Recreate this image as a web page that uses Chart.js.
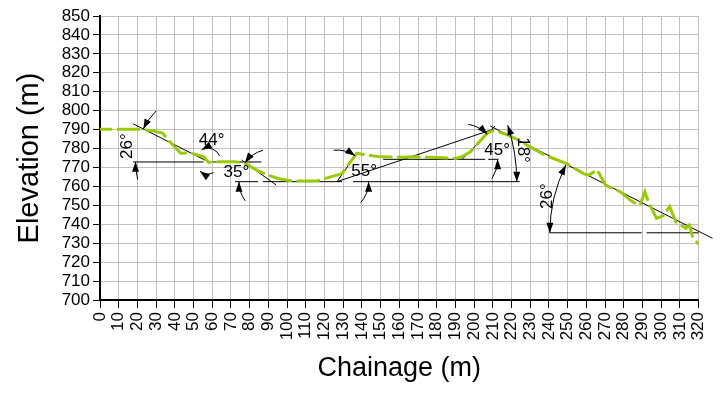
<!DOCTYPE html>
<html><head><meta charset="utf-8">
<script src="https://cdn.jsdelivr.net/npm/chart.js@4.4.1/dist/chart.umd.min.js"></script>
<style>html,body{margin:0;padding:0;background:#fff;}canvas{display:block;}</style>
</head><body>
<canvas id="c" width="723" height="407"></canvas>
<script>
// ---- data ----
const chainage = [0, 21, 28, 33.4, 36.1, 43.1, 47.5, 55.4, 58.1, 61.6, 72.2, 77.4, 84, 89.8, 95, 100, 104, 116.2, 128.5, 129.4, 137.3, 142, 150, 160, 170, 180, 190.1, 193.6, 198, 206.8, 209.5, 213, 218.2, 221.8, 237.6, 249.1, 258.7, 261.4, 265.8, 270.2, 278.1, 283.4, 286.1, 288.7, 291.3, 293.1, 297.5, 301, 304.5, 307.9, 313.3, 315, 316.8, 320];
const elevation = [790.2, 790.2, 789.4, 788.2, 784.9, 777.5, 777.8, 775.7, 772.7, 773.0, 773.0, 772.2, 768.5, 766.0, 764.2, 763.2, 762.8, 763.0, 766.5, 766.9, 777.5, 776.6, 775.6, 775.4, 775.6, 775.2, 774.8, 775.7, 778.3, 788.0, 789.3, 788.9, 787.1, 785.4, 776.6, 772.2, 766.6, 766.0, 768.7, 760.7, 757.2, 752.8, 751.1, 750.2, 757.2, 751.9, 743.1, 744.5, 749.3, 741.2, 737.9, 739.6, 733.4, 729.5];
const xTickValues = [0,10,20,30,40,50,60,70,80,90,100,110,120,130,140,150,160,170,180,190,200,210,220,230,240,250,260,270,280,290,300,310,320];
const yTickValues = [700,710,720,730,740,750,760,770,780,790,800,810,820,830,840,850];
// construction lines: [chainage1, elevation1, chainage2, elevation2]
const guideLines = [
  [17.6, 793.1, 58.1, 772.9],
  [17.6, 772.9, 55.4, 772.9],
  [60.2, 772.9, 86.3, 772.9],
  [75.7, 773.9, 94.2, 760.7],
  [72.2, 762.5, 84.5, 762.5],
  [87.1, 762.5, 129.4, 762.5],
  [135.2, 762.5, 224.4, 762.5],
  [126.7, 762.5, 137.3, 777.5],
  [126.7, 762.5, 210.3, 790.2],
  [151.4, 774.3, 205.9, 774.3],
  [207.5, 774.3, 213.0, 774.3],
  [193.6, 774.3, 211.2, 791.9],
  [208.6, 791.9, 327.4, 732.6],
  [240.3, 735.5, 289.6, 735.5],
  [292.2, 735.5, 320.0, 735.5]
];
// angle arcs: vertex chainage, vertex elevation, radius (m), from angle, to angle, arrow at start, arrow at end
const angleArcs = [
  [58.1, 773.0, 39.1, 136, 153.4, false, true],
  [58.1, 773.0, 39.1, 194, 180, false, true],
  [57.6, 773.4, 6.9, 23, 118, false, true],
  [57.6, 773.4, 6.9, -63, -127, false, true],
  [91.7, 762.5, 17.4, 105, 144.5, false, true],
  [91.7, 762.5, 17.4, 216, 180, false, true],
  [126.7, 762.5, 16.9, 96, 55, false, true],
  [126.7, 762.5, 16.9, -42, 0, false, true],
  [126.7, 762.5, 96.1, 0, 18.3, true, true],
  [193.6, 774.3, 19.0, 80, 45, false, true],
  [193.6, 774.3, 19.0, -33, 0, false, true],
  [321.3, 735.5, 80.8, 153.4, 180, true, true]
];
const angleText = ['26°', '44°', '35°', '55°', '45°', '18°', '26°'];
const angleTextChainage = [14.8, 59.7, 72.9, 141.2, 212.3, 226.0, 238.9];
const angleTextElevation = [781.3, 784.5, 767.6, 768.1, 779.2, 779.2, 754.9];
const angleTextRotation = [-90, 0, 0, 0, 0, 90, -90];

// ---- chart ----
Chart.defaults.font.family = '"Liberation Sans", Arial, sans-serif';
Chart.defaults.color = '#000';

const datasets = [{
  data: chainage.map((c, i) => ({x: c, y: elevation[i]})),
  showLine: true,
  borderColor: 'rgb(153,204,0)',
  borderWidth: 3,
  borderDash: [21, 7],
  borderDashOffset: 10,
  borderCapStyle: 'round',
  pointRadius: 0,
  tension: 0,
  fill: false
}];
guideLines.forEach(s => datasets.push({
  data: [{x: s[0], y: s[1]}, {x: s[2], y: s[3]}],
  showLine: true,
  borderColor: '#000',
  borderWidth: 1,
  pointRadius: 0,
  clip: false
}));

const annotate = {
  id: 'annotate',
  afterDatasetsDraw(chart) {
    const ctx = chart.ctx, xs = chart.scales.x, ys = chart.scales.y;
    const k = xs.getPixelForValue(1) - xs.getPixelForValue(0);
    ctx.save();
    ctx.strokeStyle = '#000';
    ctx.fillStyle = '#000';
    ctx.lineWidth = 1;
    const arrow = (px, py, dx, dy) => {
      const L = 10, W = 3.5;
      const bx = px - dx * L, by = py - dy * L;
      ctx.beginPath();
      ctx.moveTo(px, py);
      ctx.lineTo(bx - dy * W, by + dx * W);
      ctx.lineTo(bx + dy * W, by - dx * W);
      ctx.closePath();
      ctx.fill();
    };
    angleArcs.forEach(a => {
      const cx = xs.getPixelForValue(a[0]), cy = ys.getPixelForValue(a[1]);
      const r = a[2] * k;
      const a0 = a[3] * Math.PI / 180, a1 = a[4] * Math.PI / 180;
      const ccw = a1 > a0;
      ctx.beginPath();
      ctx.arc(cx, cy, r, -a0, -a1, ccw);
      ctx.stroke();
      const s = ccw ? 1 : -1;
      if (a[6]) {
        const px = cx + r * Math.cos(a1), py = cy - r * Math.sin(a1);
        arrow(px, py, -Math.sin(a1) * s, -Math.cos(a1) * s);
      }
      if (a[5]) {
        const px = cx + r * Math.cos(a0), py = cy - r * Math.sin(a0);
        arrow(px, py, Math.sin(a0) * s, Math.cos(a0) * s);
      }
    });
    ctx.font = '17px "Liberation Sans", Arial, sans-serif';
    ctx.textAlign = 'center';
    ctx.textBaseline = 'middle';
    angleText.forEach((t, i) => {
      ctx.save();
      ctx.translate(xs.getPixelForValue(angleTextChainage[i]), ys.getPixelForValue(angleTextElevation[i]));
      ctx.rotate(angleTextRotation[i] * Math.PI / 180);
      ctx.fillText(t, 0, 0);
      ctx.restore();
    });
    ctx.restore();
  }
};

new Chart(document.getElementById('c'), {
  type: 'scatter',
  data: {datasets},
  options: {
    responsive: false,
    animation: false,
    devicePixelRatio: 1,
    layout: {padding: {left: 0, right: 17, top: 16, bottom: 0}},
    plugins: {legend: {display: false}, tooltip: {enabled: false}},
    scales: {
      x: {
        type: 'linear', min: 0, max: 320,
        afterBuildTicks: s => { s.ticks = xTickValues.map(v => ({value: v})); },
        afterFit: s => { s.height = 107; },
        ticks: {autoSkip: false, minRotation: 90, maxRotation: 90, padding: 4, font: {size: 17}, color: '#000'},
        grid: {color: '#c0c0c0', lineWidth: 1, tickColor: '#000', tickLength: 8},
        border: {color: '#000', width: 2},
        title: {display: true, text: 'Chainage (m)', font: {size: 27}, color: '#000', padding: {top: 0, bottom: 22}}
      },
      y: {
        type: 'linear', min: 700, max: 850,
        afterBuildTicks: s => { s.ticks = yTickValues.map(v => ({value: v})); },
        afterFit: s => { s.width = 100; },
        ticks: {autoSkip: false, padding: 3, font: {size: 17}, color: '#000'},
        grid: {color: '#c0c0c0', lineWidth: 1, tickColor: '#000', tickLength: 7},
        border: {color: '#000', width: 2},
        title: {display: true, text: 'Elevation (m)', font: {size: 29}, color: '#000', padding: {top: 13, bottom: 0}}
      }
    }
  },
  plugins: [annotate]
});
</script>
</body></html>
